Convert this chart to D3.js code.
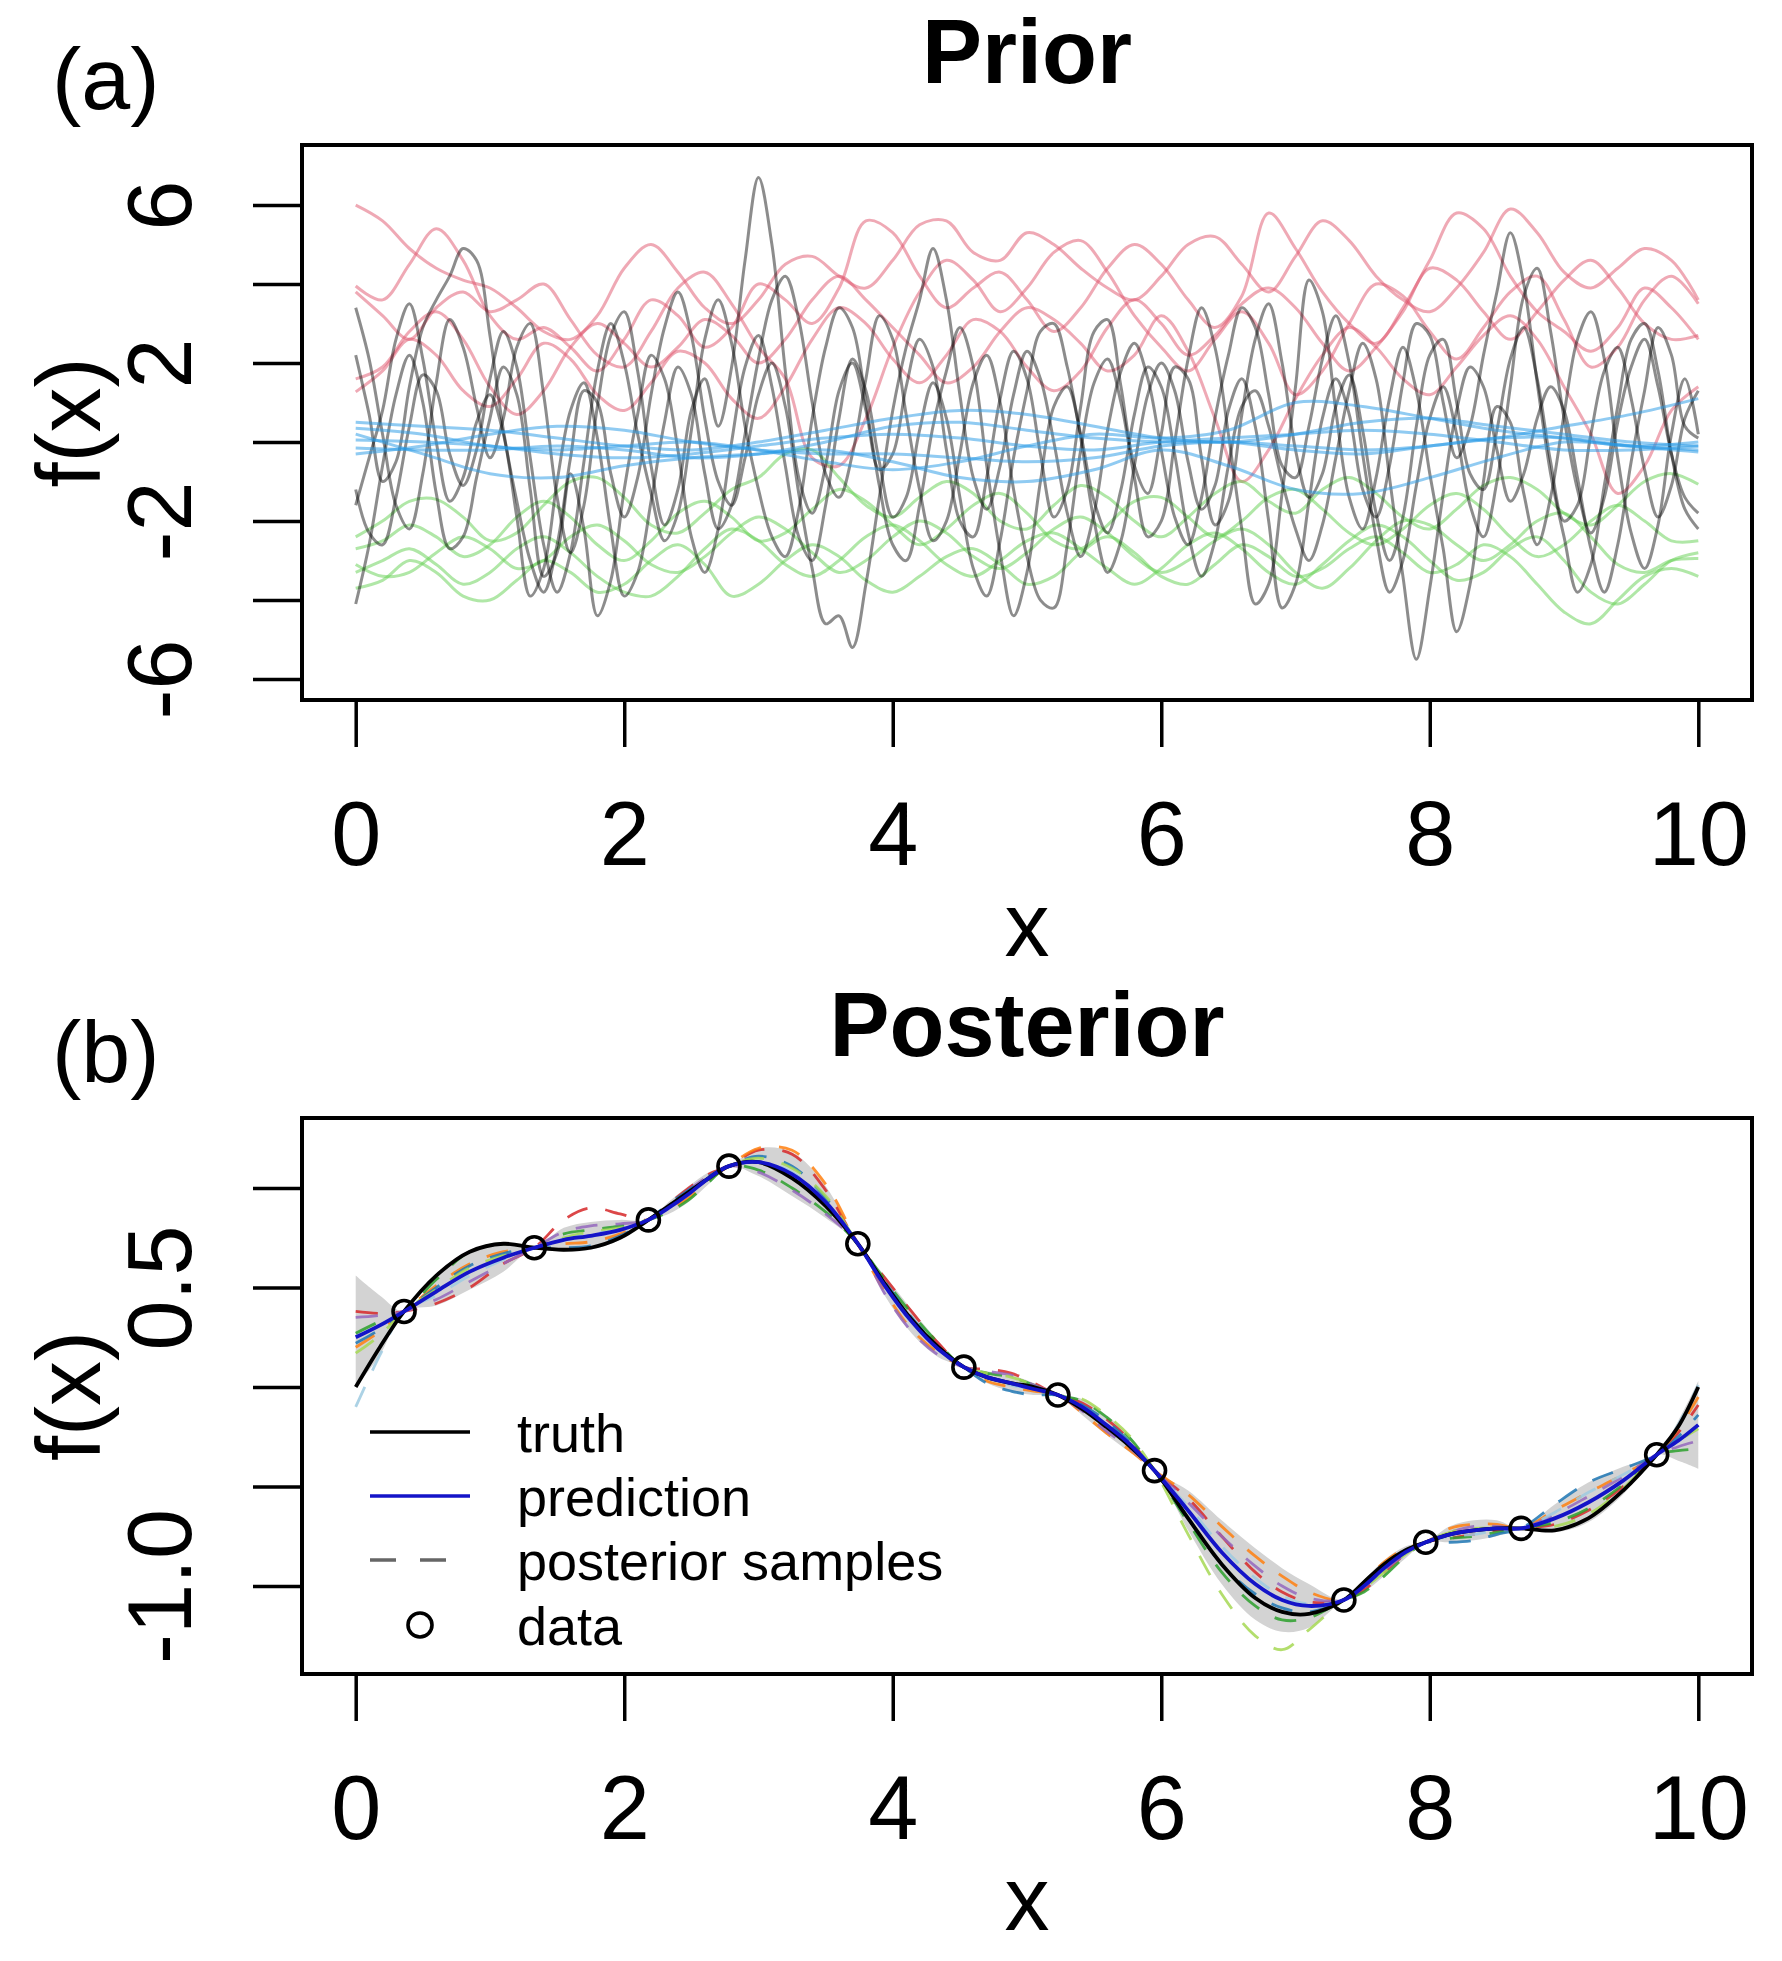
<!DOCTYPE html>
<html>
<head>
<meta charset="utf-8">
<script src="https://cdn.jsdelivr.net/npm/d3@7"></script>
<style>
  body { margin: 0; background: #fff; }
  svg { display: block; font-family: "Liberation Sans", Arial, Helvetica, sans-serif; }
</style>
</head>
<body>
<svg id="chart" width="1782" height="1961"></svg>
<script>
// ---- axis ticks ----
const xTicks = [0, 2, 4, 6, 8, 10];
const priorYTicks = [-6, -4, -2, 0, 2, 4, 6];
const priorYLabels = ["-6", "", "-2", "", "2", "", "6"];
const postYTicks = [-1.0, -0.5, 0.0, 0.5, 1.0];
const postYLabels = ["-1.0", "", "", "0.5", ""];

// ---- prior samples (panel a) ----
// red group, x = 0, 0.2, ..., 10
const redLines = [
  [6.0, 5.6, 4.9, 4.4, 4.1, 3.9, 3.4, 2.8, 2.6, 3.2, 4.4, 5.0, 4.3, 3.4, 3.0, 3.6, 4.5, 4.7, 4.2, 3.9, 4.6, 5.5, 5.6, 4.8, 4.6, 5.3, 5.0, 4.4, 3.9, 3.6, 4.2, 5.0, 5.2, 4.5, 3.8, 4.7, 5.6, 5.1, 4.2, 3.6, 3.3, 3.9, 4.8, 5.9, 5.3, 4.3, 3.9, 4.4, 4.9, 4.6, 3.6],
  [3.95, 3.6, 4.5, 5.4, 4.6, 3.2, 2.6, 2.9, 2.4, 1.8, 2.6, 3.6, 3.2, 2.4, 2.9, 4.0, 3.6, 3.0, 3.9, 5.6, 5.3, 4.2, 3.4, 3.9, 4.3, 3.6, 2.8, 3.4, 4.4, 5.0, 4.5, 3.6, 2.9, 3.7, 5.8, 4.9, 3.8, 3.0, 2.5, 3.4, 4.6, 5.8, 5.4, 4.2, 3.3, 2.8, 2.3, 2.9, 3.9, 3.4, 2.6],
  [3.8, 3.2, 2.6, 3.4, 3.8, 3.3, 3.6, 4.0, 3.1, 2.2, 1.9, 2.8, 3.9, 4.3, 3.5, 2.4, 1.6, -0.4, -0.6, 0.6, 2.4, 3.8, 4.6, 4.1, 3.3, 3.9, 4.8, 5.1, 4.3, 3.2, 2.4, 1.8, 2.6, 3.3, 2.5, 1.2, 1.8, 3.0, 4.0, 3.7, 2.8, 2.1, 2.9, 3.8, 4.2, 3.1, 1.9, 2.4, 3.6, 4.2, 3.5],
  [1.6, 1.9, 2.8, 3.3, 2.6, 1.4, 0.7, 1.3, 2.4, 3.0, 2.5, 1.9, 2.4, 3.1, 2.7, 2.0, 2.6, 3.6, 4.2, 3.6, 2.9, 2.2, 1.5, 1.9, 2.8, 3.4, 3.1, 2.5, 1.8, 2.2, 3.2, 2.3, 0.6, -1.0, -0.2, 1.1, 2.2, 2.9, 2.4, 1.6, 1.2, 1.9, 2.7, 3.2, 2.6, 1.4, 0.2, -1.3, -0.6, 0.8, 1.4],
  [1.27, 1.8, 2.6, 2.2, 1.3, 0.9, 1.6, 2.5, 2.1, 1.2, 0.8, 1.5, 2.3, 2.0, 1.1, 0.6, 1.4, 2.6, 3.4, 3.0, 2.1, 1.5, 2.2, 3.1, 2.8, 1.9, 1.3, 1.8, 2.9, 3.6, 3.0, 2.2, 2.7, 3.5, 3.9, 3.4, 2.5, 1.8, 2.4, 3.3, 4.4, 4.1, 3.3, 2.6, 3.3, 4.1, 4.6, 3.9, 3.0, 2.6, 2.7]
];
// green group, x = 0, 0.2, ..., 10
const greenLines = [
  [-2.4, -2.0, -1.5, -1.45, -1.9, -2.5, -2.3, -1.6, -1.0, -0.9, -1.4, -2.1, -2.3, -1.8, -1.2, -0.9, -0.3, -0.2, -0.9, -1.6, -1.9, -1.4, -1.0, -1.3, -2.0, -2.2, -1.6, -1.1, -1.4, -2.0, -2.4, -1.9, -1.3, -1.0, -1.5, -1.8, -1.2, -0.9, -1.3, -1.9, -2.2, -1.7, -1.1, -0.9, -1.2, -1.8, -2.1, -1.6, -1.0, -0.8, -1.07],
  [-2.7, -2.5, -2.1, -2.4, -2.9, -2.6, -1.9, -1.5, -1.9, -2.6, -3.0, -2.5, -1.8, -1.5, -1.9, -2.5, -2.3, -1.7, -1.2, -1.5, -2.1, -2.6, -2.2, -1.6, -1.3, -1.8, -2.5, -2.7, -2.1, -1.5, -1.4, -1.9, -2.4, -2.0, -1.4, -1.2, -1.7, -2.3, -2.6, -2.2, -1.6, -1.3, -1.7, -2.4, -2.9, -2.6, -2.0, -1.6, -2.0, -2.5, -2.5],
  [-3.1, -3.4, -3.3, -2.8, -2.4, -2.7, -3.2, -3.0, -2.4, -2.1, -2.5, -3.1, -3.3, -2.9, -2.3, -1.9, -2.2, -2.8, -3.3, -3.0, -2.4, -2.0, -2.3, -2.9, -3.2, -2.8, -2.2, -1.9, -2.3, -2.9, -3.3, -3.0, -2.5, -2.2, -2.6, -3.3, -3.7, -3.2, -2.5, -2.0, -2.1, -2.6, -3.0, -2.6, -2.0, -1.8, -2.4, -3.1, -3.3, -3.0, -2.95],
  [-3.7, -3.5, -3.0, -3.3, -3.9, -4.0, -3.5, -3.0, -3.3, -3.8, -3.6, -3.0, -2.6, -3.1, -3.9, -3.6, -3.0, -2.6, -2.9, -3.5, -3.8, -3.4, -2.9, -2.7, -3.1, -3.6, -3.4, -2.8, -2.4, -2.8, -3.4, -3.6, -3.1, -2.6, -2.9, -3.4, -3.2, -2.7, -2.4, -2.8, -3.3, -3.1, -2.6, -2.9, -3.6, -4.3, -4.6, -4.0, -3.4, -3.2, -3.4],
  [-3.3, -3.0, -2.7, -3.1, -3.6, -3.3, -2.7, -2.4, -2.8, -3.4, -3.8, -3.9, -3.4, -2.7, -2.2, -2.5, -3.1, -3.4, -3.0, -2.4, -2.1, -2.5, -3.1, -3.4, -3.0, -2.5, -2.3, -2.7, -3.2, -3.6, -3.2, -2.6, -2.3, -2.7, -3.3, -3.6, -3.1, -2.5, -2.1, -2.4, -3.0, -3.5, -3.3, -2.7, -2.4, -3.0, -3.8, -4.1, -3.6, -3.0, -2.8]
];
// blue group (long lengthscale), x = 0, 0.5, ..., 10
const blueLines = [
  [0.5, 0.4, 0.3, 0.1, -0.1, -0.2, 0.0, 0.3, 0.6, 0.8, 0.7, 0.4, 0.1, 0.0, 0.2, 0.5, 0.6, 0.4, 0.2, 0.0, -0.1],
  [0.35, 0.2, -0.1, -0.2, -0.1, 0.0, -0.2, -0.5, -0.7, -0.5, -0.1, 0.2, 0.1, 0.3, 1.0, 0.9, 0.6, 0.3, 0.1, -0.1, 0.0],
  [0.2, -0.3, -0.8, -0.9, -0.6, -0.4, -0.3, -0.2, -0.5, -0.9, -1.0, -0.7, -0.2, -0.6, -1.2, -1.3, -0.9, -0.4, 0.0, -0.1, -0.2],
  [0.05, 0.0, -0.1, -0.3, -0.4, -0.3, -0.1, 0.1, 0.2, 0.1, -0.1, -0.2, 0.0, 0.1, 0.2, 0.3, 0.2, 0.0, -0.2, -0.2, -0.1],
  [-0.15, -0.2, -0.2, -0.1, -0.2, -0.4, -0.3, 0.0, 0.4, 0.5, 0.3, 0.1, 0.0, 0.0, -0.2, -0.3, -0.1, 0.1, 0.4, 0.7, 1.1],
  [-0.3, -0.1, 0.2, 0.4, 0.3, 0.0, -0.2, -0.3, -0.3, -0.4, -0.5, -0.4, -0.1, 0.0, -0.1, -0.2, -0.1, 0.1, 0.1, -0.1, -0.25]
];
// black group (short lengthscale), x = 0, 0.1, ..., 10
const blackLines = [
  [3.4, 2.1, 0.2, -1.6, -2.2, -0.8, 1.5, 3.1, 2.4, 0.9,
   -0.4, 0.6, 2.4, 3.0, 1.2, -1.4, -2.8, -1.6, 0.9, 2.7,
   3.3, 1.8, -0.6, -2.1, -1.2, 0.8, 1.6, 0.4, 1.9, 4.6,
   6.7, 5.0, 1.8, -0.9, -1.8, -0.6, 1.3, 2.0, 0.8, -0.7,
   -0.3, 1.4, 2.6, 1.9, -0.2, -2.0, -2.4, -0.9, 1.1, 2.3,
   1.6, -0.3, -1.9, -1.2, 0.9, 2.8, 3.1, 1.4, -0.6, -1.3,
   0.2, 1.9, 1.6, -0.4, -2.1, -1.5, 0.7, 2.6, 3.5, 2.0,
   -0.2, -1.4, -0.8, 0.9, 1.7, 0.3, -1.8, -3.0, -1.9, 0.4,
   2.2, 2.6, 1.0, -0.8, -1.2, 0.3, 2.1, 2.9, 1.6, -0.5,
   -2.0, -1.6, 0.2, 1.8, 2.4, 1.1, -0.7, -1.9, -1.1, 0.6,
   1.3],
  [2.2, 0.7, -1.0, -0.5, 1.4, 2.9, 3.6, 4.2, 4.9, 4.6,
   2.7, 0.3, -1.5, -3.0, -3.8, -2.6, -0.4, 1.3, 1.0, -0.8,
   -1.9, -0.9, 1.2, 2.9, 3.8, 2.7, 0.6, -1.0, -1.6, -0.4,
   1.2, 2.0, 0.9, -1.3, -3.2, -4.6, -4.4, -5.2, -3.6, -1.4,
   0.8, 2.4, 3.6, 4.9, 3.6, 1.2, -0.9, -1.7, -0.6, 1.2,
   2.3, 1.6, 0.0, -1.8, -2.9, -1.8, 0.3, 1.8, 2.5, 1.6,
   -0.2, -1.9, -2.6, -1.4, 0.6, 2.2, 3.4, 2.9, 1.2, -0.6,
   -0.9, 0.4, 2.1, 3.2, 2.0, -0.3, -2.4, -3.8, -3.0, -1.1,
   0.6, 1.4, 0.2, -1.6, -2.4, -1.0, 1.4, 3.7, 4.4, 2.8,
   0.6, -1.2, -2.3, -1.4, 0.5, 1.9, 2.6, 1.4, -0.3, -1.4,
   -1.8],
  [-1.2, -2.3, -2.6, -1.4, 0.4, 1.7, 1.3, -0.3, -1.1, -0.2,
   1.6, 2.8, 1.9, -0.4, -2.6, -3.8, -2.8, -0.5, 1.8, 3.0,
   2.0, 0.2, -1.3, -2.5, -1.8, 0.3, 2.6, 3.6, 2.5, 0.4,
   -1.2, -2.4, -2.9, -1.7, 0.6, 2.4, 3.4, 2.9, 1.0, -1.1,
   -2.6, -3.0, -1.6, 0.4, 1.8, 2.9, 1.9, -0.6, -2.8, -4.4,
   -3.3, -1.0, 0.9, 1.4, 0.2, -1.5, -2.3, -1.2, 0.7, 1.9,
   1.4, -0.3, -2.3, -3.4, -2.5, -0.6, 0.9, 1.3, 0.4, -1.0,
   -2.2, -3.0, -2.1, -0.4, 1.3, 2.5, 1.6, -0.9, -3.4, -5.5,
   -3.7, -1.3, 0.8, 1.9, 1.4, -0.2, -1.5, -0.8, 0.6, 1.4,
   0.8, -0.9, -2.7, -3.8, -2.6, -0.5, 1.3, 2.9, 2.2, 0.4,
   0.1],
  [-1.6, -0.4, 0.8, 2.6, 3.5, 2.1, 0.0, -1.5, -0.9, 0.5,
   1.2, 0.2, -1.9, -3.9, -3.2, -1.0, 0.8, 1.5, 0.1, -2.2,
   -3.9, -3.3, -1.5, 0.5, 1.9, 1.2, -0.8, -2.2, -1.6, 0.2,
   2.1, 3.6, 4.2, 3.1, 1.0, -0.8, -1.4, -0.3, 1.6, 3.2,
   2.6, 0.7, -1.2, -2.5, -2.0, -0.3, 1.5, 2.2, 1.0, -1.2,
   -2.9, -4.0, -4.2, -2.6, -0.2, 1.5, 2.1, 1.0, -0.9, -2.4,
   -2.0, 0.0, 2.1, 3.4, 2.4, 0.2, -2.2, -4.1, -3.6, -1.3,
   1.4, 4.1, 3.3, 0.8, -1.4, -2.2, -0.9, 1.1, 2.4, 1.3,
   -0.8, -2.7, -4.8, -3.6, -1.0, 0.9, 0.5, -1.3, -2.6, -1.4,
   0.7, 2.6, 3.3, 2.1, -0.4, -2.3, -3.2, -2.1, 0.2, 1.6,
   0.2],
  [-4.1, -2.6, -0.6, 1.2, 2.2, 1.0, -1.3, -2.7, -2.4, -0.9,
   0.6, 1.9, 1.2, -1.2, -3.4, -2.8, -0.8, -2.2, -4.4, -3.5,
   -1.2, 0.7, 2.2, 1.6, -0.2, -2.4, -3.3, -2.2, 0.0, 1.9,
   2.7, 1.4, -0.6, -2.4, -3.0, -1.6, 0.6, 2.1, 1.3, -0.5,
   -1.9, -1.4, 0.3, 1.5, 0.6, -1.4, -3.2, -3.9, -2.5, -0.4,
   1.3, 2.8, 3.0, 1.9, 0.1, -2.0, -3.3, -2.5, -0.6, 1.2,
   2.0, 1.3, -0.5, -1.7, -1.1, 0.8, 1.6, 0.4, -2.0, -4.2,
   -3.6, -1.5, 0.6, 1.6, 0.7, -1.2, -1.9, -0.6, 1.5, 3.0,
   2.7, 1.0, -0.4, 0.4, 2.2, 3.8, 5.3, 4.0, 1.5, -0.8,
   -2.4, -3.8, -3.1, -1.1, 0.9, 2.6, 3.0, 1.8, -0.3, -1.7,
   -2.2]
];

// ---- posterior (panel b) ----
const postX = [0, 0.18, 0.36, 0.6, 0.85, 1.1, 1.33, 1.55, 1.75, 1.97, 2.18, 2.33, 2.48, 2.63, 2.78, 3.0, 3.25, 3.5, 3.74, 3.94, 4.14, 4.34, 4.53, 4.7, 4.88, 5.05, 5.23, 5.41, 5.59, 5.77, 5.95, 6.2, 6.45, 6.7, 6.9, 7.1, 7.36, 7.51, 7.66, 7.82, 7.97, 8.15, 8.33, 8.5, 8.68, 8.93, 9.18, 9.44, 9.69, 9.85, 10];
const truth = [0.00, 0.20, 0.38, 0.56, 0.68, 0.72, 0.70, 0.69, 0.70, 0.75, 0.84, 0.91, 0.98, 1.05, 1.11, 1.13, 1.05, 0.91, 0.72, 0.52, 0.34, 0.20, 0.10, 0.05, 0.02, 0.00, -0.04, -0.11, -0.20, -0.30, -0.42, -0.66, -0.89, -1.06, -1.13, -1.14, -1.07, -0.98, -0.89, -0.82, -0.78, -0.74, -0.72, -0.71, -0.71, -0.72, -0.66, -0.52, -0.34, -0.20, 0.00];
const prediction = [0.25, 0.31, 0.38, 0.48, 0.58, 0.65, 0.70, 0.74, 0.76, 0.79, 0.84, 0.90, 0.97, 1.05, 1.11, 1.13, 1.07, 0.93, 0.72, 0.51, 0.33, 0.19, 0.10, 0.05, 0.02, -0.01, -0.04, -0.10, -0.19, -0.29, -0.42, -0.62, -0.83, -0.99, -1.07, -1.10, -1.07, -1.00, -0.91, -0.83, -0.78, -0.74, -0.72, -0.71, -0.71, -0.66, -0.58, -0.47, -0.34, -0.27, -0.19];
const bandUpper = [0.56, 0.46, 0.38, 0.55, 0.67, 0.72, 0.70, 0.80, 0.83, 0.84, 0.84, 0.93, 1.01, 1.08, 1.11, 1.20, 1.18, 1.01, 0.72, 0.56, 0.39, 0.23, 0.10, 0.08, 0.06, 0.02, -0.04, -0.06, -0.14, -0.25, -0.42, -0.52, -0.67, -0.81, -0.91, -0.99, -1.07, -0.97, -0.87, -0.80, -0.78, -0.70, -0.67, -0.67, -0.71, -0.59, -0.48, -0.40, -0.34, -0.17, 0.03];
const bandLower = [0.00, 0.16, 0.38, 0.41, 0.49, 0.58, 0.70, 0.68, 0.69, 0.74, 0.84, 0.87, 0.93, 1.02, 1.11, 1.06, 0.96, 0.85, 0.72, 0.46, 0.27, 0.15, 0.10, 0.02, -0.02, -0.04, -0.04, -0.14, -0.24, -0.33, -0.42, -0.72, -0.99, -1.17, -1.23, -1.21, -1.07, -1.03, -0.95, -0.86, -0.78, -0.78, -0.77, -0.75, -0.71, -0.73, -0.68, -0.54, -0.34, -0.37, -0.41];
const sampleColors = ["#d62728", "#ff7f0e", "#2ca02c", "#9467bd", "#1f77b4", "#a6d854", "#9ecae1"];
const postSamples = [
  [0.38, 0.37, 0.38, 0.42, 0.50, 0.62, 0.70, 0.84, 0.90, 0.87, 0.84, 0.92, 1.00, 1.07, 1.11, 1.19, 1.17, 0.99, 0.72, 0.55, 0.38, 0.22, 0.10, 0.09, 0.07, 0.02, -0.04, -0.08, -0.16, -0.27, -0.42, -0.56, -0.75, -0.93, -1.03, -1.08, -1.07, -1.02, -0.93, -0.84, -0.78, -0.76, -0.74, -0.72, -0.71, -0.69, -0.62, -0.50, -0.34, -0.23, -0.09],
  [0.20, 0.28, 0.38, 0.51, 0.62, 0.68, 0.70, 0.72, 0.73, 0.77, 0.84, 0.89, 0.95, 1.04, 1.11, 1.20, 1.19, 1.02, 0.72, 0.48, 0.29, 0.17, 0.10, 0.03, 0.00, -0.02, -0.04, -0.13, -0.23, -0.32, -0.42, -0.54, -0.70, -0.85, -0.95, -1.03, -1.07, -0.98, -0.88, -0.81, -0.78, -0.71, -0.69, -0.69, -0.71, -0.62, -0.53, -0.44, -0.34, -0.21, -0.05],
  [0.27, 0.33, 0.38, 0.54, 0.68, 0.72, 0.70, 0.77, 0.79, 0.81, 0.84, 0.88, 0.94, 1.03, 1.11, 1.09, 1.00, 0.88, 0.72, 0.54, 0.37, 0.22, 0.10, 0.07, 0.05, 0.01, -0.04, -0.07, -0.15, -0.26, -0.42, -0.68, -0.93, -1.10, -1.17, -1.16, -1.07, -1.03, -0.95, -0.85, -0.78, -0.76, -0.75, -0.73, -0.71, -0.68, -0.61, -0.49, -0.34, -0.32, -0.31],
  [0.35, 0.36, 0.38, 0.44, 0.53, 0.62, 0.70, 0.78, 0.81, 0.82, 0.84, 0.91, 0.99, 1.06, 1.11, 1.08, 0.99, 0.87, 0.72, 0.47, 0.28, 0.16, 0.10, 0.08, 0.06, 0.01, -0.04, -0.12, -0.22, -0.31, -0.42, -0.58, -0.75, -0.90, -1.00, -1.06, -1.07, -1.00, -0.92, -0.84, -0.78, -0.73, -0.70, -0.70, -0.71, -0.64, -0.55, -0.45, -0.34, -0.30, -0.27],
  [0.22, 0.29, 0.38, 0.50, 0.61, 0.67, 0.70, 0.70, 0.71, 0.76, 0.84, 0.92, 0.99, 1.06, 1.11, 1.16, 1.11, 0.95, 0.72, 0.53, 0.35, 0.20, 0.10, 0.02, -0.02, -0.04, -0.04, -0.09, -0.17, -0.28, -0.42, -0.66, -0.89, -1.04, -1.11, -1.13, -1.07, -0.99, -0.90, -0.82, -0.78, -0.78, -0.77, -0.74, -0.71, -0.59, -0.48, -0.41, -0.34, -0.25, -0.14],
  [0.17, 0.26, 0.38, 0.49, 0.60, 0.66, 0.70, 0.75, 0.78, 0.80, 0.84, 0.90, 0.98, 1.05, 1.11, 1.15, 1.10, 0.96, 0.72, 0.52, 0.34, 0.19, 0.10, 0.07, 0.05, 0.01, -0.04, -0.06, -0.14, -0.25, -0.42, -0.74, -1.04, -1.25, -1.32, -1.22, -1.07, -1.01, -0.93, -0.84, -0.78, -0.73, -0.71, -0.71, -0.71, -0.70, -0.64, -0.51, -0.34, -0.27, -0.21],
  [-0.10, 0.16, 0.38, 0.46, 0.56, 0.64, 0.70, 0.74, 0.77, 0.79, 0.84, 0.91, 0.97, 1.05, 1.11, 1.13, 1.08, 0.93, 0.72, 0.51, 0.34, 0.19, 0.10, 0.05, 0.01, -0.01, -0.04, -0.11, -0.20, -0.30, -0.42, -0.60, -0.80, -0.96, -1.05, -1.09, -1.07, -1.00, -0.91, -0.83, -0.78, -0.75, -0.74, -0.72, -0.71, -0.63, -0.53, -0.44, -0.34, -0.19, 0.01]
];
const obsX = [0.36, 1.33, 2.18, 2.78, 3.74, 4.53, 5.23, 5.95, 7.36, 7.97, 8.68, 9.69];
const obsY = [0.38, 0.70, 0.84, 1.11, 0.72, 0.10, -0.04, -0.42, -1.07, -0.78, -0.71, -0.34];
const legendLabels = ["truth", "prediction", "posterior samples", "data"];

// ---- layout ----
const boxA = { left: 302, right: 1752, top: 145, bottom: 700 };
const boxB = { left: 302, right: 1752, top: 1118, bottom: 1674 };

const svg = d3.select("#chart");
svg.append("rect").attr("width", 1782).attr("height", 1961).attr("fill", "#fff");

const x = d3.scaleLinear().domain([-0.4, 10.4]).range([boxA.left, boxA.right]);
const yA = d3.scaleLinear().domain([-6.53, 7.52]).range([boxA.bottom, boxA.top]);
const yB = d3.scaleLinear().domain([-1.442, 1.352]).range([boxB.bottom, boxB.top]);

const grid = (step, n) => d3.range(n).map(i => +(i * step).toFixed(3));

function addClip(id, box) {
    svg.append("clipPath").attr("id", id)
        .append("rect")
        .attr("x", box.left).attr("y", box.top)
        .attr("width", box.right - box.left).attr("height", box.bottom - box.top);
}

function drawFrame(box, y, yTicks, yLabels, title, tag) {
    const cx = (box.left + box.right) / 2;
    const cy = (box.top + box.bottom) / 2;

    // x axis
    const ax = svg.append("g")
        .attr("transform", `translate(0,${box.bottom + 2})`)
        .call(d3.axisBottom(x).tickValues(xTicks).tickSize(45).tickSizeOuter(0));
    ax.attr("font-family", null).attr("font-size", 90);
    ax.select(".domain").remove();
    ax.selectAll(".tick line").attr("stroke", "#000").attr("stroke-width", 3.5);
    ax.selectAll(".tick text").attr("y", 163).attr("dy", 0).attr("fill", "#000");

    // y axis, labels turned like R's las=0
    const ay = svg.append("g")
        .attr("transform", `translate(${box.left - 1},0)`)
        .call(d3.axisLeft(y).tickValues(yTicks).tickSize(48).tickSizeOuter(0)
            .tickFormat((d, i) => yLabels[i]));
    ay.attr("font-family", null).attr("font-size", 90);
    ay.select(".domain").remove();
    ay.selectAll(".tick line").attr("stroke", "#000").attr("stroke-width", 3.5);
    ay.selectAll(".tick text")
        .attr("x", 0).attr("dy", 0).attr("fill", "#000")
        .attr("text-anchor", "middle")
        .attr("transform", "translate(-110,0) rotate(-90)");

    // box
    svg.append("rect")
        .attr("x", box.left).attr("y", box.top)
        .attr("width", box.right - box.left).attr("height", box.bottom - box.top)
        .attr("fill", "none").attr("stroke", "#000").attr("stroke-width", 4);

    // labels
    svg.append("text").attr("x", cx).attr("y", box.bottom + 256)
        .attr("text-anchor", "middle").attr("font-size", 90).text("x");
    svg.append("text")
        .attr("transform", `translate(100,${cy}) rotate(-90)`)
        .attr("text-anchor", "middle").attr("font-size", 90).text("f(x)");
    svg.append("text").attr("x", cx).attr("y", box.top - 62)
        .attr("text-anchor", "middle").attr("font-size", 90).attr("font-weight", "bold")
        .text(title);
    svg.append("text").attr("x", 52).attr("y", box.top - 36)
        .attr("font-size", 88).text(tag);
}

// ---- panel a: prior ----
addClip("clipA", boxA);
const priorLine = d3.line().x(d => x(d[0])).y(d => yA(d[1])).curve(d3.curveCatmullRom);
const gA = svg.append("g").attr("clip-path", "url(#clipA)");

const priorGroups = [
    { lines: redLines, step: 0.2, color: "#DF536B", opacity: 0.5 },
    { lines: greenLines, step: 0.2, color: "#61D04F", opacity: 0.5 },
    { lines: blackLines, step: 0.1, color: "#000000", opacity: 0.45 },
    { lines: blueLines, step: 0.5, color: "#2297E6", opacity: 0.5 }
];
priorGroups.forEach(grp => {
    const xs = grid(grp.step, grp.lines[0].length);
    gA.append("g").selectAll("path")
        .data(grp.lines)
        .enter().append("path")
        .attr("d", vals => priorLine(vals.map((v, i) => [xs[i], v])))
        .attr("fill", "none")
        .attr("stroke", grp.color)
        .attr("stroke-opacity", grp.opacity)
        .attr("stroke-width", 3);
});
drawFrame(boxA, yA, priorYTicks, priorYLabels, "Prior", "(a)");

// ---- panel b: posterior ----
addClip("clipB", boxB);
const gB = svg.append("g").attr("clip-path", "url(#clipB)");
const postLine = d3.line().x(d => x(d[0])).y(d => yB(d[1])).curve(d3.curveCatmullRom);

const band = d3.area()
    .x((d, i) => x(postX[i]))
    .y0((d, i) => yB(bandLower[i]))
    .y1((d, i) => yB(bandUpper[i]))
    .curve(d3.curveCatmullRom);
gB.append("path").attr("d", band(postX)).attr("fill", "#d3d3d3");

gB.append("g").selectAll("path")
    .data(postSamples)
    .enter().append("path")
    .attr("d", vals => postLine(vals.map((v, i) => [postX[i], v])))
    .attr("fill", "none")
    .attr("stroke", (d, i) => sampleColors[i])
    .attr("stroke-opacity", 0.85)
    .attr("stroke-width", 2.8)
    .attr("stroke-dasharray", "22,18");

gB.append("path")
    .attr("d", postLine(truth.map((v, i) => [postX[i], v])))
    .attr("fill", "none").attr("stroke", "#000").attr("stroke-width", 3.8);
gB.append("path")
    .attr("d", postLine(prediction.map((v, i) => [postX[i], v])))
    .attr("fill", "none").attr("stroke", "#1414c8").attr("stroke-width", 3.8);

gB.append("g").selectAll("circle")
    .data(obsX)
    .enter().append("circle")
    .attr("cx", d => x(d))
    .attr("cy", (d, i) => yB(obsY[i]))
    .attr("r", 11)
    .attr("fill", "none").attr("stroke", "#000").attr("stroke-width", 3.6);

drawFrame(boxB, yB, postYTicks, postYLabels, "Posterior", "(b)");

// legend (no box)
const legend = svg.append("g");
const rowY = [1432, 1496, 1560, 1625];
const keyX0 = 370, keyX1 = 470, textX = 517;
legendLabels.forEach((lab, i) => {
    const row = legend.append("g").attr("transform", `translate(0,${rowY[i]})`);
    if (i < 3) {
        row.append("line").attr("x1", keyX0).attr("x2", keyX1)
            .attr("stroke", ["#000", "#1414c8", "#666"][i])
            .attr("stroke-width", 3.6)
            .attr("stroke-dasharray", i === 2 ? "26,24" : null);
    } else {
        row.append("circle").attr("cx", (keyX0 + keyX1) / 2).attr("cy", 0).attr("r", 12)
            .attr("fill", "none").attr("stroke", "#000").attr("stroke-width", 3.6);
    }
    row.append("text").attr("x", textX).attr("y", 20)
        .attr("font-size", 54).attr("fill", "#000").text(lab);
});
</script>
</body>
</html>
